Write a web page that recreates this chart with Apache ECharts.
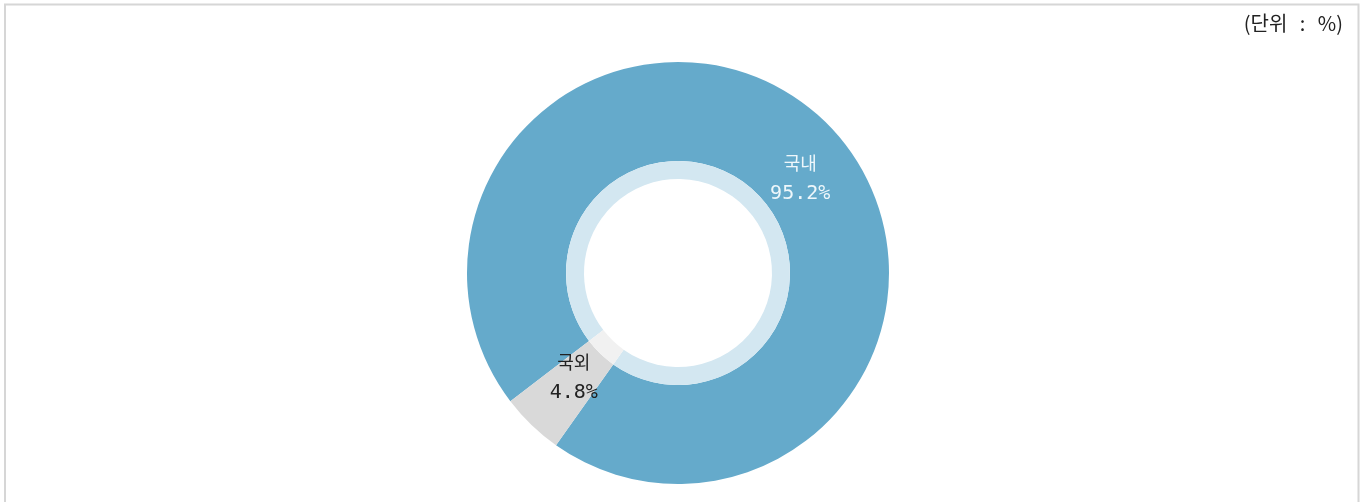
<!DOCTYPE html>
<html>
<head>
<meta charset="utf-8">
<script src="https://cdn.jsdelivr.net/npm/echarts@6/dist/echarts.min.js"></script>
<style>
  html, body { margin: 0; padding: 0; background: #fff; }
  #chart { width: 1363px; height: 502px; }
</style>
</head>
<body>
<div id="chart"></div>
<script>
// Share of domestic vs. overseas (%)
const categories = ['국내', '국외'];
const shares = [95.2, 4.8];
const unitParts = ['(단위', ':', '%)'];

const ringColors = ['#65aacb', '#d9d9d9'];
const innerColors = ['#d3e7f1', '#f1f1f1'];
const labelColors = ['#eef7fb', '#222222'];
const labelOffsets = [[8, 24], [10, -14]];

const chart = echarts.init(document.getElementById('chart'), null, { renderer: 'canvas' });

const center = [678, 273];
const startAngle = 217.4;

chart.setOption({
  backgroundColor: '#ffffff',
  animation: false,
  graphic: [
    {
      type: 'polyline',
      shape: { points: [[5, 520], [5, 4.5], [1358.5, 4.5], [1358.5, 520]] },
      style: { stroke: '#d6d6d6', lineWidth: 2, fill: null },
      silent: true
    },
    {
      type: 'text',
      right: 20,
      top: 13,
      style: {
        text: '{u|' + unitParts[0] + '} {c|' + unitParts[1] + '} {u|' + unitParts[2] + '}',
        fill: '#222222',
        font: '20px "Noto Sans CJK KR", sans-serif',
        rich: {
          u: { fontFamily: '"Noto Sans CJK KR", sans-serif', fontSize: 20, fill: '#222222' },
          c: { fontFamily: '"Noto Sans CJK KR", sans-serif', fontSize: 20, fill: '#222222', padding: [0, 8] }
        }
      }
    }
  ],
  series: [
    {
      type: 'pie',
      center: center,
      radius: [112, 211],
      startAngle: startAngle,
      clockwise: true,
      silent: true,
      itemStyle: { borderWidth: 0 },
      label: {
        position: 'inside',
        formatter: '{n|{b}}\n{v|{c}%}',
        rich: {
          n: { fontFamily: '"Noto Sans CJK KR", sans-serif', fontSize: 18, lineHeight: 30, align: 'center' },
          v: { fontFamily: '"DejaVu Sans Mono", monospace', fontSize: 20, lineHeight: 30, align: 'center' }
        }
      },
      labelLine: { show: false },
      data: categories.map((name, i) => ({
        name: name,
        value: shares[i],
        itemStyle: { color: ringColors[i] },
        label: { color: labelColors[i], offset: labelOffsets[i] }
      }))
    },
    {
      type: 'pie',
      center: center,
      radius: [94, 112],
      startAngle: startAngle,
      clockwise: true,
      silent: true,
      itemStyle: { borderWidth: 0 },
      label: { show: false },
      labelLine: { show: false },
      data: categories.map((name, i) => ({
        name: name,
        value: shares[i],
        itemStyle: { color: innerColors[i] }
      }))
    }
  ]
});
</script>
</body>
</html>
